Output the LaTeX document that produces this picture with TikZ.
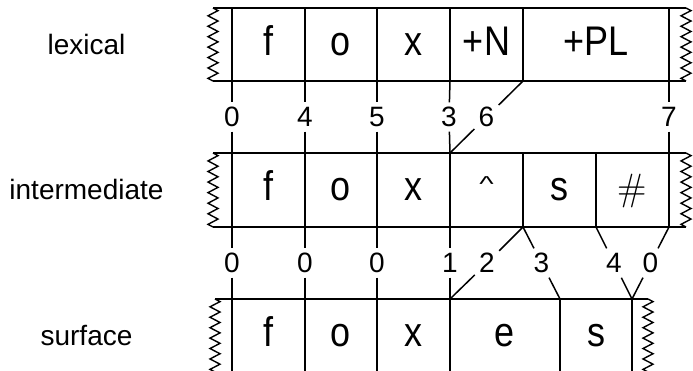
\documentclass[tikz,border=0pt]{standalone}
\usepackage{graphicx}
\usepackage{fontspec}
\setmainfont{Liberation Sans}
\newfontfamily\lmrfont{Latin Modern Roman}
\newcommand\tall[1]{\scalebox{1}[1.15]{#1}}
\newcommand\zigside[5]{% x0, ytop, ybot, teeth, amplitude
  \draw[zig] (#1,#2) foreach \k in {1,...,#4} { -- ({#1+#5},{#2+(#3-#2)*(4*\k-3)/(4*#4)}) -- ({#1-#5},{#2+(#3-#2)*(4*\k-1)/(4*#4)}) } -- (#1,#3);}
\begin{document}
\begin{tikzpicture}[x=1pt,y=-1pt,
  tape/.style={line width=1.5pt},
  zig/.style={line width=1.4pt, line join=miter},
  conn/.style={line width=1.5pt},
  sym/.style={font=\fontsize{36}{42}\selectfont, inner sep=0pt, anchor=base},
  lvl/.style={font=\fontsize{28}{32}\selectfont, inner sep=0pt, anchor=base},
  num/.style={font=\fontsize{28}{32}\selectfont, inner sep=0pt, minimum height=29pt, minimum width=24pt}]
\fill[white] (0,0) rectangle (693,371);
\clip (0,0) rectangle (693,371);

% ---------- lexical tape ----------
\draw[tape] (213,8) -- (686,8) (213,81) -- (686,81);
\zigside{213}{8}{81}{7}{5}
\zigside{686}{8}{81}{7}{5}
\foreach \x in {232,305,377,450,523,669} \draw[tape] (\x,8) -- (\x,81);

% ---------- intermediate tape ----------
\draw[tape] (213,153) -- (686,153) (213,227) -- (686,227);
\zigside{213}{153}{227}{7}{5}
\zigside{686}{153}{227}{7}{5}
\foreach \x in {232,305,377,450,523,596,669} \draw[tape] (\x,153) -- (\x,227);

% ---------- surface tape ----------
\draw[tape] (215,299) -- (648,299) (215,372) -- (648,372);
\zigside{215}{299}{372}{7}{5}
\zigside{648}{299}{372}{7}{5}
\foreach \x in {232,305,377,450,560,632} \draw[tape] (\x,299) -- (\x,372);

% ---------- boundary coordinates ----------
\foreach \n/\x in {0/232,1/305,2/377,3/450,4/523,5/669} \coordinate (lb\n) at (\x,81);
\foreach \n/\x in {0/232,1/305,2/377,3/450,4/523,5/596,6/669} {
  \coordinate (it\n) at (\x,153);
  \coordinate (ib\n) at (\x,227);}
\foreach \n/\x in {0/232,1/305,2/377,3/450,4/560,5/632} \coordinate (st\n) at (\x,299);

% ---------- level labels ----------
\node[lvl] (lexlbl) at (86.5,55) {lexical};
\node[lvl] (intlbl) at (86.5,200) {intermediate};
\node[lvl] (surlbl) at (86.5,345) {surface};

% ---------- tape symbols ----------
\node[sym] (lf) at (268.5,56) {\tall{f}};
\node[sym] (lo) at (341,56) {\tall{o}};
\node[sym] (lx) at (413.5,56) {\tall{x}};
\node[sym] (lN) at (486.5,56) {\tall{+N}};
\node[sym] (lPL) at (596,56) {\tall{+PL}};

\node[sym] (mf) at (268.5,201) {\tall{f}};
\node[sym] (mo) at (341,201) {\tall{o}};
\node[sym] (mx) at (413.5,201) {\tall{x}};
\node[sym] (mc) at (486.5,201) {\raisebox{9pt}{\scalebox{0.85}[0.6]{\textasciicircum}}};
\node[sym] (ms) at (559.5,201) {\tall{s}};
\node[sym] (mh) at (632.5,201) {\lmrfont\fontsize{38}{42}\selectfont\#};

\node[sym] (sf) at (268.5,346) {\tall{f}};
\node[sym] (so) at (341,346) {\tall{o}};
\node[sym] (sx) at (413.5,346) {\tall{x}};
\node[sym] (se) at (505,346) {\tall{e}};
\node[sym] (ss) at (596,346) {\tall{s}};

% ---------- alignment numbers, lexical -> intermediate ----------
\node[num] (a0) at (232,117) {0};
\node[num] (a1) at (305,117) {4};
\node[num] (a2) at (377,117) {5};
\node[num] (a3) at (449,117) {3};
\node[num] (a4) at (486.5,117) {6};
\node[num] (a5) at (669,117) {7};
\draw[conn] (lb0) -- (a0) -- (it0);
\draw[conn] (lb1) -- (a1) -- (it1);
\draw[conn] (lb2) -- (a2) -- (it2);
\draw[conn] (lb3) -- (a3) -- (it3);
\draw[conn] (lb4) -- (a4) -- (it3);
\draw[conn] (lb5) -- (a5) -- (it6);

% ---------- alignment numbers, intermediate -> surface ----------
\node[num] (b0) at (232,263) {0};
\node[num] (b1) at (305,263) {0};
\node[num] (b2) at (377,263) {0};
\node[num] (b3) at (450,263) {1};
\node[num] (b4) at (487,263) {2};
\node[num] (b5) at (541.5,263) {3};
\node[num] (b6) at (614,263) {4};
\node[num] (b7) at (650.5,263) {0};
\draw[conn] (ib0) -- (b0) -- (st0);
\draw[conn] (ib1) -- (b1) -- (st1);
\draw[conn] (ib2) -- (b2) -- (st2);
\draw[conn] (ib3) -- (b3) -- (st3);
\draw[conn] (ib4) -- (b4) -- (st3);
\draw[conn] (ib4) -- (b5) -- (st4);
\draw[conn] (ib5) -- (b6) -- (st5);
\draw[conn] (ib6) -- (b7) -- (st5);
\end{tikzpicture}
\end{document}
